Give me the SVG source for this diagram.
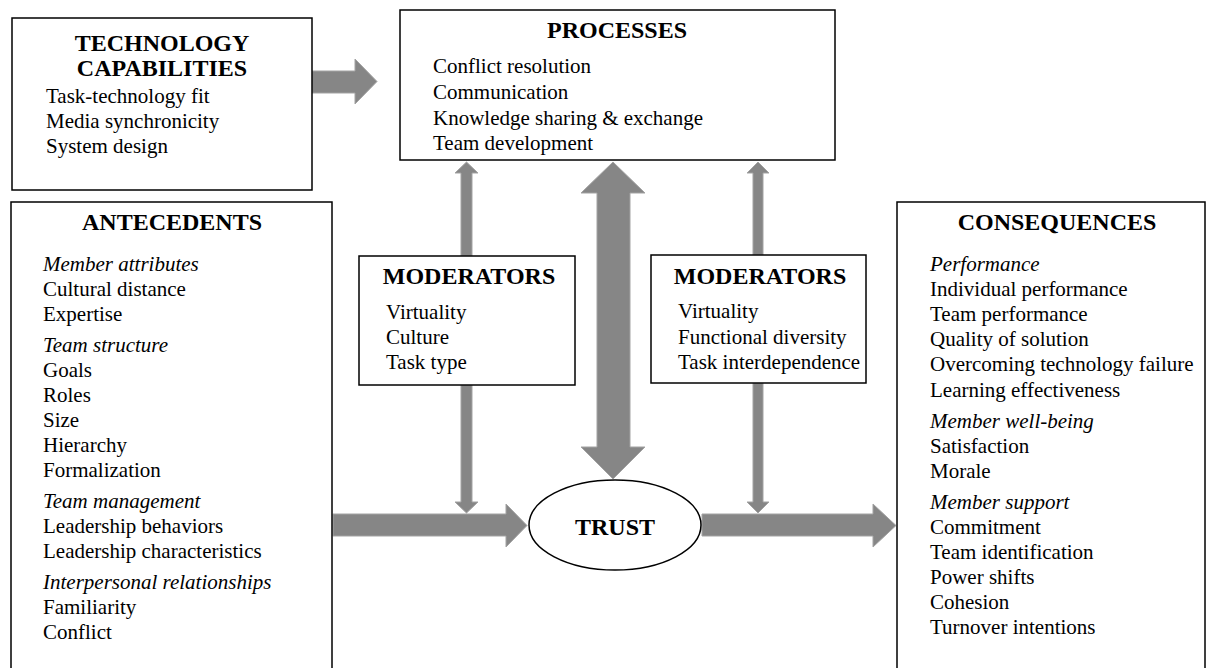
<svg xmlns="http://www.w3.org/2000/svg" width="1215" height="668" viewBox="0 0 1215 668">
<style>
.box{fill:#fff;stroke:#000;stroke-width:1.5}
.arr{fill:#868686;stroke:#a3a3a3;stroke-width:1}
text{font-family:'Liberation Serif','DejaVu Serif',serif;fill:#000}
.h{font-size:24px;font-weight:bold;text-anchor:middle}
.t{font-size:21px}
.i{font-size:21px;font-style:italic}
</style>
<rect width="1215" height="668" fill="#fff"/>
<g id="connectors">
<polygon class="arr" points="312,71 355,71 355,59 377,81.5 355,104 355,93 312,93"/>
<polygon class="arr" points="333,514 506,514 506,504 527,525.5 506,547 506,536 333,536"/>
<polygon class="arr" points="702,514 873,514 873,504 896,525.5 873,547 873,536 702,536"/>
<polygon class="arr" points="461,256 461,173 455,173 466.5,162 478,173 472,173 472,256"/>
<polygon class="arr" points="461,385 461,502 455,502 466.5,513 478,502 472,502 472,385"/>
<polygon class="arr" points="753,255 753,173 747,173 758,162 769,173 763,173 763,255"/>
<polygon class="arr" points="753,383 753,502 747,502 758,513 769,502 763,502 763,383"/>
<polygon class="arr" points="613,162 645,193 630,193 630,447 645,447 613,479 581,447 597,447 597,193 581,193"/>
</g>
<g font-family="Liberation Serif, DejaVu Serif, serif">
<g id="technology">
<rect class="box" x="12" y="18" width="300" height="172"/>
<text class="h" x="162" y="51">TECHNOLOGY</text>
<text class="h" x="162" y="76">CAPABILITIES</text>
<text class="t" x="46" y="103">Task-technology fit</text>
<text class="t" x="46" y="128">Media synchronicity</text>
<text class="t" x="46" y="153">System design</text>
</g>
<g id="processes">
<rect class="box" x="400" y="10" width="435" height="150"/>
<text class="h" x="617" y="38">PROCESSES</text>
<text class="t" x="433" y="73">Conflict resolution</text>
<text class="t" x="433" y="99">Communication</text>
<text class="t" x="433" y="124.5">Knowledge sharing &amp; exchange</text>
<text class="t" x="433" y="150">Team development</text>
</g>
<g id="antecedents">
<rect class="box" x="11" y="202" width="321" height="480"/>
<text class="h" x="172" y="230">ANTECEDENTS</text>
<text class="i" x="43" y="271">Member attributes</text>
<text class="t" x="43" y="296">Cultural distance</text>
<text class="t" x="43" y="321">Expertise</text>
<text class="i" x="43" y="352">Team structure</text>
<text class="t" x="43" y="377">Goals</text>
<text class="t" x="43" y="402">Roles</text>
<text class="t" x="43" y="427">Size</text>
<text class="t" x="43" y="452">Hierarchy</text>
<text class="t" x="43" y="477">Formalization</text>
<text class="i" x="43" y="508">Team management</text>
<text class="t" x="43" y="533">Leadership behaviors</text>
<text class="t" x="43" y="558">Leadership characteristics</text>
<text class="i" x="43" y="589">Interpersonal relationships</text>
<text class="t" x="43" y="614">Familiarity</text>
<text class="t" x="43" y="639">Conflict</text>
</g>
<g id="moderators-left">
<rect class="box" x="359" y="256" width="216" height="129"/>
<text class="h" x="469" y="284">MODERATORS</text>
<text class="t" x="386" y="319">Virtuality</text>
<text class="t" x="386" y="344">Culture</text>
<text class="t" x="386" y="369">Task type</text>
</g>
<g id="moderators-right">
<rect class="box" x="651" y="255" width="215" height="128"/>
<text class="h" x="760" y="284">MODERATORS</text>
<text class="t" x="678" y="318">Virtuality</text>
<text class="t" x="678" y="344">Functional diversity</text>
<text class="t" x="678" y="369">Task interdependence</text>
</g>
<g id="trust">
<ellipse class="box" cx="615" cy="525" rx="86" ry="45"/>
<text class="h" x="615" y="535">TRUST</text>
</g>
<g id="consequences">
<rect class="box" x="897" y="202" width="308" height="480"/>
<text class="h" x="1057" y="230">CONSEQUENCES</text>
<text class="i" x="930" y="271">Performance</text>
<text class="t" x="930" y="296">Individual performance</text>
<text class="t" x="930" y="321">Team performance</text>
<text class="t" x="930" y="346">Quality of solution</text>
<text class="t" x="930" y="371">Overcoming technology failure</text>
<text class="t" x="930" y="397">Learning effectiveness</text>
<text class="i" x="930" y="428">Member well-being</text>
<text class="t" x="930" y="453">Satisfaction</text>
<text class="t" x="930" y="478">Morale</text>
<text class="i" x="930" y="509">Member support</text>
<text class="t" x="930" y="534">Commitment</text>
<text class="t" x="930" y="559">Team identification</text>
<text class="t" x="930" y="584">Power shifts</text>
<text class="t" x="930" y="609">Cohesion</text>
<text class="t" x="930" y="634">Turnover intentions</text>
</g>
</g>
</svg>
